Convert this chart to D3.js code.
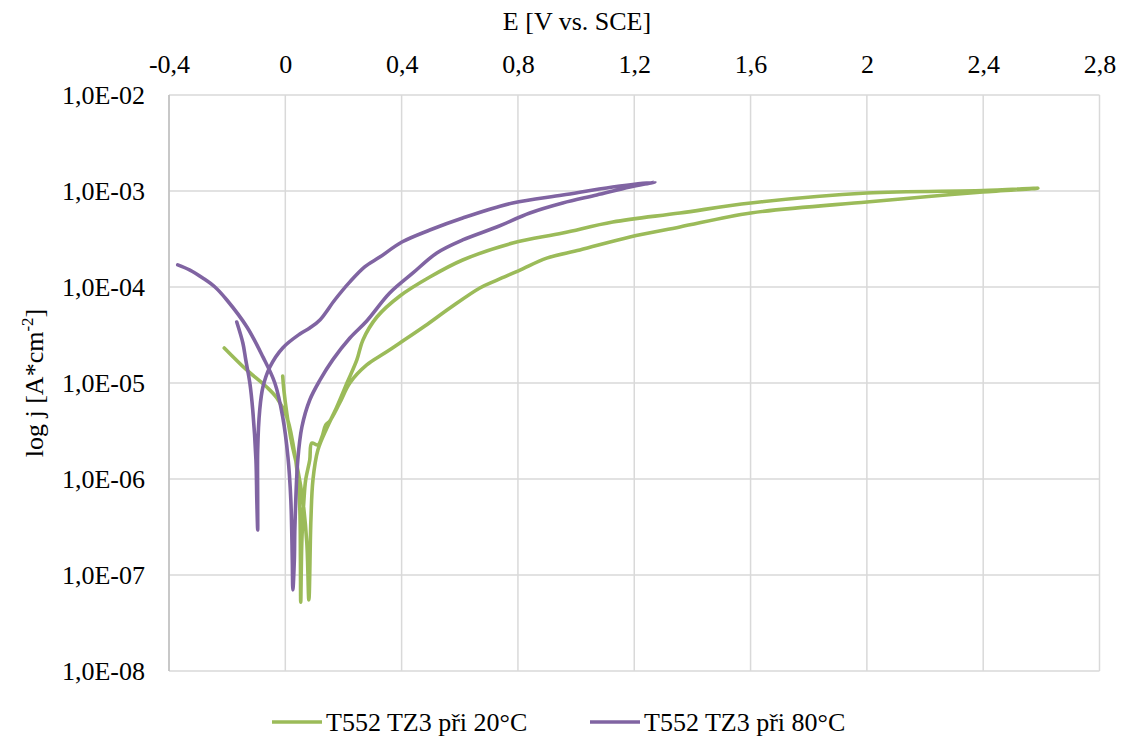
<!DOCTYPE html>
<meta charset="utf-8">

<!-- Load d3.js -->
<script src="https://d3js.org/d3.v7.min.js"></script>

<style>
  body { margin: 0; background: #fff; }
  text { font-family: "Liberation Serif", "Times New Roman", serif; fill: #000; }
</style>

<body>
<svg id="svg" width="1121" height="736"></svg>

<script>
// series names (legend)
var seriesNames = ["T552 TZ3 při 20°C", "T552 TZ3 při 80°C"];
var seriesColors = ["#9BBB59", "#8064A2"];

// E [V vs. SCE] and j [A/cm2], forward then reverse scan
var greenE = [-0.21, -0.132, -0.064, -0.029, 0.005, 0.026, 0.043, 0.050, 0.052, 0.053,
  0.057, 0.064, 0.070, 0.084, 0.091, 0.112, 0.126, 0.139, 0.153, 0.187, 0.222, 0.280,
  0.342, 0.394, 0.480, 0.566, 0.669, 0.728, 0.807, 0.899, 1.013, 1.185, 1.357, 1.601,
  2.0, 2.193, 2.399, 2.588,
  2.399, 2.0, 1.601, 1.357, 1.126, 0.954, 0.782, 0.610, 0.497, 0.394, 0.315, 0.267,
  0.246, 0.212, 0.177, 0.143, 0.112, 0.095, 0.088, 0.081, 0.074, 0.060, 0.043, 0.022,
  0.005, -0.005, -0.009];
var greenJ = [2.32e-5, 1.36e-5, 9.08e-6, 6.98e-6, 4.43e-6, 2.37e-6, 1.05e-6, 4.75e-7, 1.43e-7, 5.2e-8,
  2.32e-7, 6.04e-7, 9.77e-7, 1.58e-6, 2.37e-6, 2.26e-6, 2.74e-6, 3.65e-6, 4.02e-6, 6.19e-6, 1.0e-5, 1.54e-5,
  2.05e-5, 2.61e-5, 3.92e-5, 6.04e-5, 9.77e-5, 1.18e-4, 1.50e-4, 2.00e-4, 2.43e-4, 3.32e-4, 4.22e-4, 5.90e-4,
  7.68e-4, 8.66e-4, 9.77e-4, 1.07e-3,
  1.01e-3, 9.53e-4, 7.50e-4, 5.90e-4, 4.75e-4, 3.65e-4, 2.87e-4, 1.91e-4, 1.27e-4, 8.06e-5, 4.87e-5, 2.81e-5,
  1.74e-5, 1.0e-5, 5.62e-6, 3.40e-6, 2.00e-6, 9.77e-7, 3.74e-7, 5.5e-8, 2.15e-7, 6.04e-7, 1.24e-6, 2.37e-6,
  4.87e-6, 8.45e-6, 1.18e-5];

var purpleE = [-0.370, -0.328, -0.284, -0.242, -0.201, -0.132, -0.077, -0.036, -0.009, 0.009,
  0.019, 0.024, 0.026, 0.031, 0.033, 0.043, 0.057, 0.084, 0.119, 0.163, 0.222, 0.280,
  0.359, 0.439, 0.521, 0.610, 0.727, 0.841, 0.954, 1.071, 1.185, 1.271,
  1.126, 0.954, 0.782, 0.610, 0.497, 0.401, 0.325, 0.273, 0.222, 0.170, 0.119, 0.084,
  0.050, -0.009, -0.053, -0.077, -0.088, -0.095, -0.095, -0.095, -0.098, -0.101, -0.112,
  -0.122, -0.136, -0.146, -0.167];
var purpleJ = [1.70e-4, 1.50e-4, 1.24e-4, 1.0e-4, 7.32e-5, 3.83e-5, 1.87e-5, 1.0e-5, 4.43e-6, 1.70e-6,
  6.04e-7, 1.43e-7, 6.98e-8, 1.43e-7, 3.16e-7, 1.58e-6, 3.48e-6, 6.65e-6, 1.07e-5, 1.74e-5, 2.94e-5, 4.43e-5,
  8.66e-5, 1.40e-4, 2.26e-4, 3.09e-4, 4.22e-4, 5.90e-4, 7.50e-4, 9.08e-4, 1.10e-3, 1.24e-3,
  1.10e-3, 9.08e-4, 7.50e-4, 5.23e-4, 3.92e-4, 2.94e-4, 2.05e-4, 1.62e-4, 1.13e-4, 7.32e-5, 4.53e-5, 3.74e-5,
  3.24e-5, 2.32e-5, 1.47e-5, 9.08e-6, 5.23e-6, 2.00e-6, 6.04e-7, 2.94e-7, 6.04e-7, 1.58e-6, 5.23e-6,
  1.0e-5, 1.74e-5, 2.61e-5, 4.32e-5];

// tick values
var xTicks = [-0.4, 0, 0.4, 0.8, 1.2, 1.6, 2, 2.4, 2.8];
var yTicks = [1e-8, 1e-7, 1e-6, 1e-5, 1e-4, 1e-3, 1e-2];

var svg = d3.select("svg");
var plotL = 169, plotR = 1099.5, plotT = 95, plotB = 671;

var x = d3.scaleLinear().domain([-0.4, 2.8]).range([plotL, plotR]);
var y = d3.scaleLog().domain([1e-8, 1e-2]).range([plotB, plotT]);

// gridlines
svg.append("g")
  .selectAll("line")
  .data(yTicks)
  .enter().append("line")
  .attr("x1", plotL).attr("x2", plotR)
  .attr("y1", function(d) { return y(d); })
  .attr("y2", function(d) { return y(d); })
  .attr("stroke", "#D9D9D9").attr("stroke-width", 1.5);

svg.append("g")
  .selectAll("line")
  .data(xTicks)
  .enter().append("line")
  .attr("x1", function(d) { return x(d); })
  .attr("x2", function(d) { return x(d); })
  .attr("y1", plotT).attr("y2", plotB)
  .attr("stroke", "#D9D9D9").attr("stroke-width", 1.5);

// left axis line
svg.append("line")
  .attr("x1", plotL).attr("x2", plotL).attr("y1", plotT).attr("y2", plotB)
  .attr("stroke", "#BFBFBF").attr("stroke-width", 1.5);

// x axis on top
var xAxis = svg.append("g")
  .attr("transform", "translate(0," + plotT + ")")
  .call(d3.axisTop(x).tickValues(xTicks).tickSize(0).tickPadding(22)
    .tickFormat(function(d) { return String(+d.toFixed(1)).replace(".", ","); }));
xAxis.select(".domain").remove();
xAxis.selectAll("text").attr("font-size", 26).attr("font-family", "Liberation Serif");

// y axis
var yAxis = svg.append("g")
  .attr("transform", "translate(" + plotL + ",0)")
  .call(d3.axisLeft(y).tickValues(yTicks).tickSize(0).tickPadding(24)
    .tickFormat(function(d) {
      var e = Math.round(Math.log10(d));
      return "1,0E-" + (e > -10 ? "0" : "") + Math.abs(e);
    }));
yAxis.select(".domain").remove();
yAxis.selectAll("text").attr("font-size", 26).attr("font-family", "Liberation Serif");

// curves (smoothed through the read points)
var line = d3.line()
  .curve(d3.curveCatmullRom.alpha(0.5))
  .x(function(d) { return x(d[0]); })
  .y(function(d) { return y(d[1]); });

var series = [d3.zip(greenE, greenJ), d3.zip(purpleE, purpleJ)];
svg.append("g")
  .selectAll("path")
  .data(series)
  .enter().append("path")
  .attr("d", line)
  .attr("fill", "none")
  .attr("stroke", function(d, i) { return seriesColors[i]; })
  .attr("stroke-width", 3.6)
  .attr("stroke-linejoin", "round")
  .attr("stroke-linecap", "round");

// axis titles
svg.append("text")
  .attr("x", 577).attr("y", 30)
  .attr("text-anchor", "middle")
  .attr("font-size", 26)
  .text("E [V vs. SCE]");

var yt = svg.append("text")
  .attr("transform", "translate(43,383) rotate(-90)")
  .attr("text-anchor", "middle")
  .attr("font-size", 26);
yt.append("tspan").text("log j [A*cm");
yt.append("tspan").attr("font-size", 17).attr("dy", -10).text("-2");
yt.append("tspan").attr("dy", 10).text("]");

// legend
var legendX = [272, 590];
var legend = svg.append("g")
  .selectAll("g")
  .data(seriesNames)
  .enter().append("g")
  .attr("transform", function(d, i) { return "translate(" + legendX[i] + ",722)"; });
legend.append("line")
  .attr("x1", 0).attr("x2", 50)
  .attr("stroke", function(d, i) { return seriesColors[i]; })
  .attr("stroke-width", 3.6);
legend.append("text")
  .attr("x", 54).attr("y", 9)
  .attr("font-size", 26)
  .text(function(d) { return d; });
</script>
</body>
